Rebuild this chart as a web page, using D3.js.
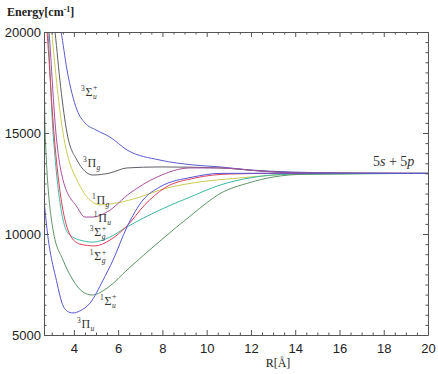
<!DOCTYPE html>
<html>
<head>
<meta charset="utf-8">
<script src="https://cdn.jsdelivr.net/npm/d3@7"></script>
<style>
  body { margin: 0; background: #fff; }
  svg { display: block; }
</style>
</head>
<body>
<div id="chart"></div>
<script>

////////////////////////////////////////////////////////////
// Data (R in angstrom, energy in cm^-1)
////////////////////////////////////////////////////////////

const R_3Su = [3.3, 3.42, 3.69, 4.14, 4.5, 5.0, 5.63, 6.4, 7.89, 9.38, 10.6, 11.96, 13.8, 16, 20]
const E_3Su = [20600, 20000, 18120, 16140, 15500, 15150, 14800, 14160, 13660, 13420, 13320, 13170, 13070, 13020, 13000]

const R_3Pg = [3.1, 3.15, 3.4, 3.69, 4.14, 4.86, 5.63, 6.4, 7.89, 10.6, 12.4, 14.2, 20]
const E_3Pg = [20500, 20000, 17300, 15000, 13660, 12920, 13020, 13270, 13320, 13270, 13120, 13030, 13000]

const R_1Pg = [2.95, 3.0, 3.51, 3.69, 4.14, 4.73, 5.18, 5.95, 6.99, 7.89, 11.96, 14.2, 20]
const E_1Pg = [20600, 20000, 15000, 14010, 12670, 11680, 11440, 11540, 11830, 12180, 12820, 12970, 13000]

const R_1Pu = [2.84, 2.88, 3.19, 3.51, 4.14, 4.5, 4.86, 5.5, 6.54, 7.76, 9.25, 10.6, 12.4, 14.2, 20]
const E_1Pu = [20600, 20000, 15000, 12670, 11340, 10840, 10840, 11090, 12030, 12820, 13270, 13270, 13120, 13020, 13000]

const R_3Sg = [2.79, 2.83, 3.06, 3.73, 4.27, 4.86, 5.63, 6.4, 7.89, 9.25, 10.6, 11.96, 13.8, 20]
const E_3Sg = [20600, 20000, 15000, 10050, 9700, 9600, 9850, 10350, 11190, 11830, 12420, 12780, 12960, 13000]

const R_1Sg = [2.75, 2.79, 3.1, 3.83, 4.27, 4.95, 5.63, 6.4, 7.2, 8.1, 9.47, 11.05, 13, 20]
const E_1Sg = [20600, 20000, 15000, 9950, 9500, 9410, 9700, 10400, 11440, 12280, 12770, 12970, 13000, 13000]

const R_1Su = [2.65, 2.7, 3.06, 3.51, 3.96, 4.41, 4.82, 5.6, 6.4, 7.89, 9.38, 10.6, 11.96, 13.0, 14.5, 20]
const E_1Su = [20000, 15000, 10200, 8710, 7720, 7130, 6980, 7400, 8220, 9650, 11000, 12000, 12550, 12820, 12960, 13000]

const R_3Pu = [2.65, 2.79, 3.24, 3.46, 3.69, 3.96, 4.27, 4.73, 5.32, 5.77, 6.4, 7.12, 7.89, 9.38, 10.6, 13, 20]
const E_3Pu = [11680, 10200, 7570, 6590, 6190, 6090, 6190, 6580, 7720, 8710, 10350, 11680, 12330, 12820, 13000, 13010, 13000]

const curve_names = ['3Su', '3Pg', '1Pg', '1Pu', '3Sg', '1Sg', '1Su', '3Pu']
const curve_R = [R_3Su, R_3Pg, R_1Pg, R_1Pu, R_3Sg, R_1Sg, R_1Su, R_3Pu]
const curve_E = [E_3Su, E_3Pg, E_1Pg, E_1Pu, E_3Sg, E_1Sg, E_1Su, E_3Pu]

const x_major = [4, 6, 8, 10, 12, 14, 16, 18, 20]
const y_major = [5000, 10000, 15000, 20000]

// State labels, anchored at the left edge / baseline
const label_mult = ['3', '3', '1', '1', '3', '1', '1', '3']
const label_sym = ['Σ', 'Π', 'Π', 'Π', 'Σ', 'Σ', 'Σ', 'Π']
const label_sub = ['u', 'g', 'g', 'u', 'g', 'g', 'u', 'u']
const label_plus = [true, false, false, false, true, true, true, false]
const label_R = [4.32, 4.41, 4.82, 4.9, 4.72, 4.72, 5.18, 4.14]
const label_E = [16850, 13300, 11490, 10600, 9900, 8700, 6500, 5350]

////////////////////////////////////////////////////////////
// Layout
////////////////////////////////////////////////////////////

const W = 438
const H = 374
const plot = { left: 44, right: 428, top: 32, bottom: 335 }
const colors = {
  '3Su': '#5c5cd0',
  '3Pg': '#5e5e66',
  '1Pg': '#cccc55',
  '1Pu': '#a6509e',
  '3Sg': '#3fb8a4',
  '1Sg': '#e0405a',
  '1Su': '#5e9468',
  '3Pu': '#5656d4'
}
const frame_color = '#555'
const serif = "'Liberation Serif', 'Times New Roman', serif"
const sans = "'Liberation Sans', Arial, sans-serif"

let svg = d3.select('#chart')
  .append('svg')
  .attr('width', W)
  .attr('height', H)

let x_scale = d3.scaleLinear()
  .domain([2.65, 20])
  .range([plot.left, plot.right])

let y_scale = d3.scaleLinear()
  .domain([5000, 20000])
  .range([plot.bottom, plot.top])

svg.append('defs')
  .append('clipPath')
  .attr('id', 'plot-clip')
  .append('rect')
    .attr('x', plot.left)
    .attr('y', plot.top)
    .attr('width', plot.right - plot.left)
    .attr('height', plot.bottom - plot.top)

////////////////////////////////////////////////////////////
// Curves
////////////////////////////////////////////////////////////

let line = d3.line()
  .x(d => x_scale(d[0]))
  .y(d => y_scale(d[1]))
  .curve(d3.curveMonotoneX)

let curve_g = svg.append('g')
  .attr('clip-path', 'url(#plot-clip)')

curve_names.forEach((name, i) => {
  let pts = curve_R[i].map((r, j) => [r, curve_E[i][j]])
  curve_g.append('path')
    .attr('d', line(pts))
    .attr('fill', 'none')
    .attr('stroke', colors[name])
    .attr('stroke-width', 1)
})

////////////////////////////////////////////////////////////
// Frame and ticks
////////////////////////////////////////////////////////////

let x_minor = d3.range(3, 20.01, 0.5).filter(v => !x_major.includes(v))
let y_minor = d3.range(5000, 20001, 500).filter(v => !y_major.includes(v))

let axis_b = d3.axisBottom(x_scale).tickValues(x_major).tickSize(-5).tickFormat(d3.format('d'))
let axis_t = d3.axisTop(x_scale).tickValues(x_major).tickSize(-5).tickFormat('')
let axis_l = d3.axisLeft(y_scale).tickValues(y_major).tickSize(-5).tickFormat(d3.format('d'))
let axis_r = d3.axisRight(y_scale).tickValues(y_major).tickSize(-5).tickFormat('')

let add_axis = (axis, tx, ty, minor, minor_axis) => {
  let g = svg.append('g')
    .attr('transform', `translate(${tx},${ty})`)
    .call(axis.tickSizeOuter(0).tickPadding(4))
  g.attr('font-family', sans)
  g.select('.domain').attr('stroke', frame_color)
  g.selectAll('.tick line').attr('stroke', frame_color)
  g.selectAll('text')
    .attr('font-size', 13)
    .attr('fill', '#222')
  svg.append('g')
    .attr('transform', `translate(${tx},${ty})`)
    .call(minor_axis.tickValues(minor).tickSize(-2.5).tickSizeOuter(0).tickFormat(''))
    .call(s => s.select('.domain').remove())
    .selectAll('.tick line').attr('stroke', frame_color)
  return g
}

let gb = add_axis(axis_b, 0, plot.bottom, x_minor, d3.axisBottom(x_scale))
gb.selectAll('text').attr('dy', '1.05em')
add_axis(axis_t, 0, plot.top, x_minor, d3.axisTop(x_scale))
let gl = add_axis(axis_l, plot.left, 0, y_minor, d3.axisLeft(y_scale))
gl.selectAll('text').attr('x', -3)
add_axis(axis_r, plot.right, 0, y_minor, d3.axisRight(y_scale))

////////////////////////////////////////////////////////////
// Axis titles
////////////////////////////////////////////////////////////

let title_y = svg.append('text')
  .attr('x', 7)
  .attr('y', 16)
  .attr('font-family', serif)
  .attr('font-weight', 'bold')
  .attr('font-size', 12)
  .attr('fill', '#222')
title_y.append('tspan').text('Energy[cm')
title_y.append('tspan').attr('dy', -4).attr('font-size', 8).text('-1')
title_y.append('tspan').attr('dy', 4).text(']')

svg.append('text')
  .attr('x', 278)
  .attr('y', 367)
  .attr('text-anchor', 'middle')
  .attr('font-family', serif)
  .attr('font-size', 12)
  .attr('fill', '#222')
  .text('R[Å]')

////////////////////////////////////////////////////////////
// State labels
////////////////////////////////////////////////////////////

label_mult.forEach((m, i) => {
  let x = x_scale(label_R[i])
  let y = y_scale(label_E[i])
  let g = svg.append('g')
    .attr('transform', `translate(${x},${y})`)
    .attr('font-family', serif)
    .attr('fill', '#333')
  g.append('text').attr('x', 0).attr('y', -5)
    .attr('font-size', 7.5).text(m)
  g.append('text').attr('x', 4.5).attr('y', 0)
    .attr('font-size', 12).text(label_sym[i])
  let sx = label_sym[i] == 'Σ' ? 12 : 13.5
  g.append('text').attr('x', sx).attr('y', 3)
    .attr('font-style', 'italic')
    .attr('font-size', 7.5).text(label_sub[i])
  if (label_plus[i]) {
    g.append('text').attr('x', sx).attr('y', -5.5)
      .attr('font-size', 8).text('+')
  }
})

svg.append('text')
  .attr('x', 373)
  .attr('y', 166)
  .attr('font-family', serif)
  .attr('font-size', 14)
  .attr('fill', '#333')
  .html('<tspan>5</tspan><tspan font-style="italic">s</tspan><tspan> + 5</tspan><tspan font-style="italic">p</tspan>')

</script>
</body>
</html>
